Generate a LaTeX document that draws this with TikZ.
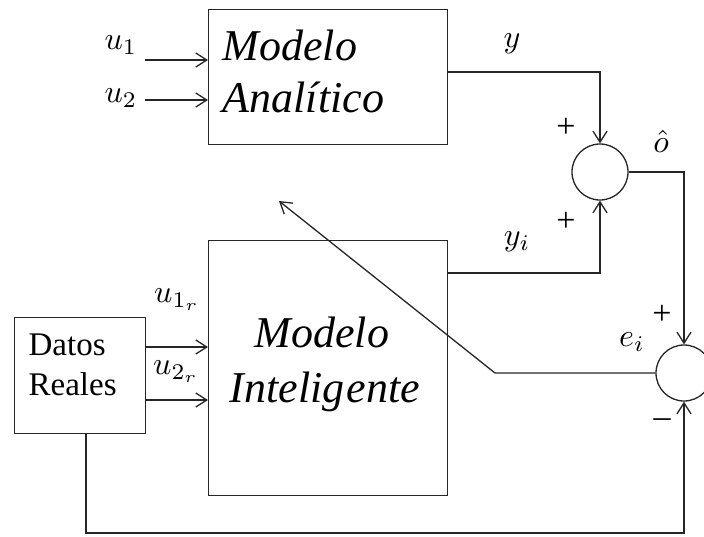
\documentclass[tikz,border=0pt]{standalone}
\usepackage{fontspec}
\setmainfont{Liberation Serif}
\usetikzlibrary{arrows.meta,calc}
\begin{document}
\begin{tikzpicture}[x=1pt,y=-1pt,
  line width=1.3pt, draw=black!85,
  arr/.style={-{Straight Barb[length=11pt,width=14pt,line width=1.3pt]}},
  blockbox/.style={draw, rectangle, anchor=north west, inner sep=0pt},
  sumnode/.style={draw, circle, minimum size=56pt, inner sep=0pt},
  bigtxt/.style={font=\fontsize{44}{48}\selectfont\itshape, inner sep=0pt, anchor=base west},
  mathlbl/.style={scale=3.2, inner sep=0pt},
  signlbl/.style={font=\fontsize{34}{38}\selectfont, inner sep=0pt}]
\useasboundingbox (0,0) rectangle (704,536);

% blocks
\node[blockbox, minimum width=239pt, minimum height=135pt] (ma) at (208,9) {};
\node[blockbox, minimum width=239pt, minimum height=255pt] (mi) at (208,240) {};
\node[blockbox, minimum width=131pt, minimum height=116pt] (dr) at (14,317) {};

% block texts
\node[bigtxt] (maA) at (222,60) {Modelo};
\node[bigtxt] (maB) at (222,112) {Analítico};
\node[bigtxt, anchor=base] (miA) at (322,347) {Modelo};
\node[bigtxt, anchor=base] (miB) at (325,402) {Intelig\kern2pt ente};
\node[font=\fontsize{33}{40}\selectfont, inner sep=0pt, anchor=base west] (drA) at (28,355) {Datos};
\node[font=\fontsize{33}{40}\selectfont, inner sep=0pt, anchor=base west] (drB) at (28,395) {Reales};

% summing junctions
\node[sumnode] (s1) at (600,172) {};
\node[sumnode] (s2) at (684,373) {};

% input arrows of the analytic model
\coordinate (u1s) at (145,60);
\coordinate (u2s) at (145,100);
\draw[arr] (u1s) -- (u1s -| ma.west);
\draw[arr] (u2s) -- (u2s -| ma.west);
\node[mathlbl] (lu1) at (121,45) {$u_1$};
\node[mathlbl] (lu2) at (121,98) {$u_2$};

% input arrows of the intelligent model
\coordinate (u1r) at (145,347);
\coordinate (u2r) at (145,400);
\draw[arr] (u1r) -- (u1r -| mi.west);
\draw[arr] (u2r) -- (u2r -| mi.west);
\node[mathlbl] (lu1r) at (177,300) {$u_{1_r}$};
\node[mathlbl] (lu2r) at (176,372) {$u_{2_r}$};

% outputs to the first junction
\coordinate (yo) at (447,72);
\coordinate (yio) at (447,273);
\draw[arr] (yo) -| (s1.north);
\draw[arr] (yio) -| (s1.south);
\node[mathlbl] (ly) at (512,44) {$y$};
\node[mathlbl] (lyi) at (517,242) {$y_i$};
\node[signlbl] (p1) at (566,128) {+};
\node[signlbl] (p2) at (566,222) {+};

% combined output to the error junction
\draw[arr] (s1.east) -| (s2.north);
\node[mathlbl] (lo) at (661,141) {$\hat{o}$};
\node[signlbl] (p3) at (662,315) {+};
\node[signlbl] (m1) at (662,423) {–};
\node[mathlbl] (lei) at (632,342) {$e_i$};

% measured data to the error junction
\coordinate (bot) at (86,533);
\draw[arr] (dr.south -| bot) -- (bot) -| (s2.south);

% error fed back to the intelligent model
\coordinate (fbk) at (495,373);
\coordinate (fbtip) at (279,201);
\draw[arr] (s2.west) -- (fbk) -- (fbtip);
\end{tikzpicture}
\end{document}
